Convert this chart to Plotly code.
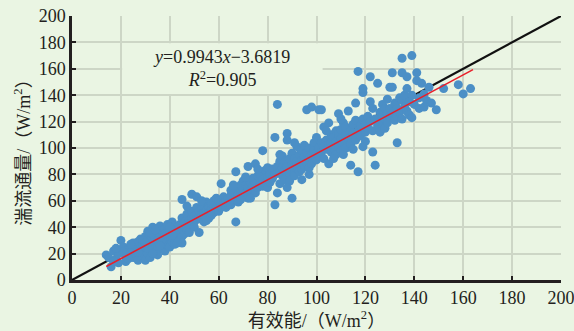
import plotly.graph_objects as go

# effective energy (x) and turbulent flux (y), W/m2
pts = [
(14,19),(16,10),(15,17),(17,22),(18,16),(19,20),(20,30),(21,25),(22,18),(22,14),(23,23),(24,21),(25,28),(25,17),(26,26),(26,20),(27,15),(27,29),(28,24),(24,27),(19,13),(21,21),(23,16),(18,24),(17,14),
(28,18),(28,31),(29,22),(29,27),(30,15),(30,25),(30,33),(31,20),(31,28),(31,37),(32,24),(32,30),(32,17),(33,27),(33,35),(33,40),(34,22),(34,31),(34,28),(35,25),(35,36),(35,19),(36,30),(36,33),(36,41),(37,27),(37,24),(37,35),(38,32),(38,29),(38,39),(38,22),(39,34),(39,26),(39,42),(40,30),(40,36),(40,33),(40,25),(41,38),(41,29),(41,44),(42,35),(42,31),(42,27),(43,40),(43,33),(43,37),(44,30),(44,42),(44,36),(45,39),(45,33),(45,47),(45,28),(29,30),(31,24),(33,20),(35,30),(37,31),(39,37),(41,34),(43,28),(27,21),(30,28),(32,36),(34,38),(36,26),(38,35),(40,40),
(46,40),(46,35),(46,44),(47,42),(47,38),(47,50),(48,45),(48,40),(48,36),(49,47),(49,43),(49,52),(50,44),(50,48),(50,40),(51,50),(51,46),(51,55),(52,36),(52,48),(52,52),(53,46),(53,54),(53,50),(54,51),(54,44),(54,57),(55,53),(55,49),(55,59),(56,55),(56,47),(56,51),(57,58),(57,53),(57,49),(58,56),(58,60),(58,51),(59,54),(59,62),(60,57),(60,52),(60,60),(61,59),(61,73),(61,55),(62,63),(62,58),(45,61),(49,65),(51,63),(47,56),(53,60),(55,45),
(63,60),(63,55),(64,62),(64,58),(65,64),(65,57),(65,68),(66,61),(66,66),(67,82),(67,44),(67,63),(68,65),(68,70),(68,59),(69,67),(69,72),(70,64),(70,69),(70,75),(71,66),(71,72),(72,86),(72,70),(72,62),(73,74),(73,68),(74,77),(74,71),(75,88),(75,66),(75,73),(76,79),(76,70),(77,74),(77,80),(78,98),(78,71),(78,76),(79,83),(79,73),(80,78),(80,85),(80,70),(66,72),(69,61),(71,78),(73,62),(76,84),
(81,80),(81,74),(82,84),(82,77),(83,57),(83,108),(83,80),(84,133),(84,66),(84,86),(85,73),(85,82),(85,90),(86,79),(86,85),(86,94),(87,83),(87,76),(87,89),(88,111),(88,106),(88,86),(89,81),(89,92),(89,75),(90,62),(90,88),(90,96),(91,84),(91,79),(91,92),(92,101),(92,86),(92,90),(93,82),(93,95),(93,88),(94,91),(94,98),(94,84),(95,87),(95,102),(95,93),(96,89),(96,129),(96,96),(97,85),(97,100),(97,92),(98,131),(98,95),(98,88),(99,104),(99,98),(100,91),(100,96),(100,108),(85,95),(88,70),(91,104),(94,76),(97,80),
(101,100),(101,129),(101,94),(102,104),(102,129),(102,97),(103,116),(103,101),(103,92),(104,106),(104,99),(105,88),(105,119),(105,103),(106,110),(106,97),(106,104),(107,108),(107,100),(108,113),(108,95),(108,105),(109,126),(109,110),(109,101),(110,107),(110,114),(110,98),(111,119),(111,104),(112,110),(112,100),(112,116),(113,128),(113,107),(114,87),(114,113),(114,103),(115,111),(115,118),(116,134),(116,106),(116,121),(117,158),(117,82),(117,113),(118,109),(118,117),(119,142),(119,145),(119,122),(120,112),(120,118),(120,105),(121,124),(121,115),(122,154),(122,135),(122,120),(123,130),(123,97),(123,113),(124,87),(124,122),(125,149),(125,117),(107,92),(111,95),(115,99),(119,101),(104,113),(110,122),
(126,120),(126,127),(126,112),(127,133),(127,118),(127,124),(128,115),(128,130),(128,122),(129,126),(129,137),(129,119),(130,146),(130,124),(130,130),(131,157),(131,146),(131,127),(132,121),(132,134),(133,104),(133,124),(133,130),(134,138),(134,127),(135,168),(135,157),(135,136),(135,122),(136,131),(136,140),(137,154),(137,145),(137,128),(138,135),(138,125),(139,170),(139,123),(139,140),(140,133),(141,157),(141,151),(142,138),(142,130),(143,149),(144,131),(144,141),(145,136),(146,146),(147,134),(149,129),(152,145),(158,148),(160,141),(163,145),
]
x_vals = [p[0] for p in pts]
y_vals = [p[1] for p in pts]

slope = 0.9943
intercept = -3.6819
fit_x = [14, 164]
fit_y = [slope * v + intercept for v in fit_x]
ref_x = [0, 200]
ref_y = [0, 200]
tick_vals = list(range(0, 201, 20))

BG = "#eaf5e3"
SERIF = "Liberation Serif"
CJK = "Liberation Serif, Noto Sans CJK SC"

fig = go.Figure()
fig.add_trace(go.Scatter(x=ref_x, y=ref_y, mode="lines",
                         line=dict(color="#111111", width=2.2), hoverinfo="skip"))
fig.add_trace(go.Scatter(x=x_vals, y=y_vals, mode="markers",
                         marker=dict(color="#4b8fc6", size=9, line=dict(width=0))))
fig.add_trace(go.Scatter(x=fit_x, y=fit_y, mode="lines",
                         line=dict(color="#e8202a", width=1.6), hoverinfo="skip"))

fig.add_shape(type="rect", xref="x", yref="y", x0=20.5, x1=102.5, y0=141, y1=179.3,
              fillcolor=BG, line=dict(width=0), layer="between")

fig.add_annotation(x=61, y=160.5, xref="x", yref="y", showarrow=False, align="center",
                   text="<i>y</i>=0.9943<i>x</i>−3.6819<br><i>R</i><sup>2</sup>=0.905",
                   font=dict(family=SERIF, size=18, color="#231f20"))

axis_common = dict(range=[0, 200], tickvals=tick_vals, showgrid=True,
                   gridcolor="#cdd6c6", gridwidth=1.5, zeroline=False,
                   showline=True, linecolor="#231f20", linewidth=2.5,
                   ticks="inside", ticklen=4, tickwidth=2, tickcolor="#231f20",
                   automargin=False, ticklabeloverflow="allow",
                   tickfont=dict(family=SERIF, size=18, color="#231f20"))

fig.update_layout(
    width=574, height=331,
    margin=dict(l=72, r=13, t=16, b=51),
    paper_bgcolor=BG, plot_bgcolor=BG,
    showlegend=False,
    xaxis=dict(**axis_common,
               title=dict(text="有效能/（W/m<sup>2</sup>）", standoff=2,
                          font=dict(family=CJK, size=18, color="#231f20"))),
    yaxis=dict(**axis_common,
               title=dict(text="湍流通量/（W/m<sup>2</sup>）", standoff=4,
                          font=dict(family=CJK, size=18, color="#231f20"))),
)

fig.write_html("out.html")
